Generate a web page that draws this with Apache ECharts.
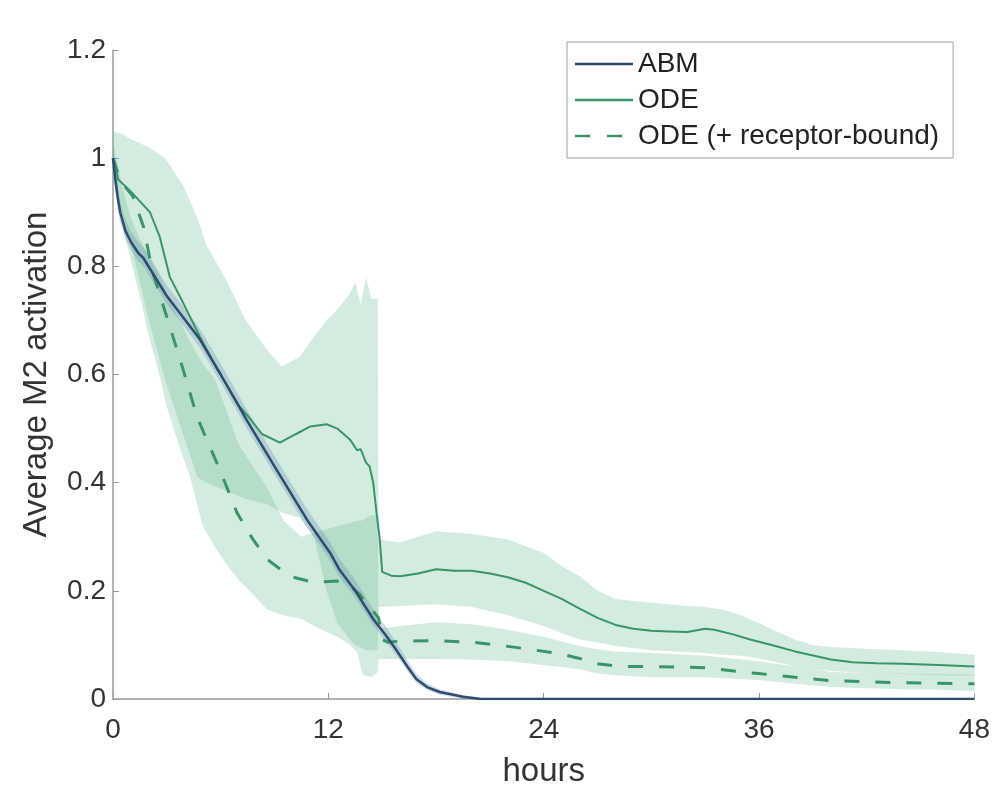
<!DOCTYPE html>
<html><head><meta charset="utf-8">
<script src="https://cdn.jsdelivr.net/npm/echarts@6/dist/echarts.min.js"></script>
<style>html,body{margin:0;padding:0;background:#fff}#c{width:993px;height:793px}</style>
</head><body><div id="c"></div>
<script>
// ---- axis ticks ----
const xTicks = [0, 12, 24, 36, 48];
const yTicks = [0, 0.2, 0.4, 0.6, 0.8, 1, 1.2];

// ---- ABM ----
const abmHours = [0,0.1,0.25,0.4,0.7,1.0,1.4,1.7,3,4.84,6,7.46,9,10.8,12.1,12.6,13.5,14.5,15.2,15.8,16.4,16.9,17.5,18.2,19.5,20.5,24,30,36,42,48];
const abmMean  = [1.0,0.97,0.93,0.90,0.865,0.845,0.825,0.815,0.745,0.665,0.60,0.515,0.43,0.332,0.27,0.24,0.20,0.148,0.118,0.09,0.06,0.037,0.022,0.013,0.004,0,0,0,0,0,0];
const abmLow   = [0.99,0.95,0.91,0.88,0.85,0.83,0.81,0.80,0.73,0.65,0.585,0.50,0.415,0.318,0.256,0.226,0.187,0.136,0.107,0.08,0.052,0.03,0.016,0.008,0.001,0,0,0,0,0,0];
const abmHigh  = [1.01,0.99,0.95,0.92,0.885,0.865,0.845,0.835,0.765,0.685,0.62,0.535,0.45,0.352,0.29,0.26,0.22,0.166,0.134,0.104,0.072,0.046,0.029,0.018,0.007,0.002,0.001,0.001,0.001,0.001,0.001];

// ---- ODE ----
const odeHours = [0,0.3,0.95,1.5,2.06,2.6,3.17,3.9,4.84,5.8,7.07,7.6,8.3,9.3,10.2,11,11.9,12.5,13.2,13.6,13.8,14.1,14.3,14.5,14.7,14.85,15.0,15.5,16,17,18,19,20,21,22,23,24,25,26,27,28,29,30,31,32,33,33.5,34.5,35.5,36.7,38,39.2,40,41.2,42.5,44,46,48];
const odeMean  = [1.0,0.96,0.94,0.92,0.90,0.855,0.78,0.733,0.67,0.61,0.54,0.52,0.49,0.474,0.49,0.504,0.508,0.50,0.48,0.46,0.462,0.437,0.43,0.40,0.34,0.30,0.235,0.228,0.227,0.232,0.24,0.237,0.237,0.232,0.225,0.215,0.20,0.185,0.167,0.15,0.137,0.13,0.126,0.125,0.124,0.13,0.128,0.12,0.11,0.10,0.088,0.079,0.073,0.068,0.066,0.065,0.063,0.06];
const odeBandHours = [0,0.5,1,2,2.9,3.9,4.7,5.2,6.3,7.4,8.6,9.4,10.4,11.2,11.9,12.5,13.2,13.5,13.8,14.1,14.4,14.7,14.75,
                      14.8,16,18,20,22,24,25,26,27,28,30,32,33,34,35,36,37,38,39,40,42,44,46,48];
const odeBandHigh  = [1.05,1.045,1.035,1.02,1.0,0.95,0.89,0.84,0.775,0.70,0.645,0.615,0.633,0.67,0.70,0.72,0.75,0.77,0.73,0.78,0.74,0.74,0.74,
                      0.295,0.29,0.31,0.305,0.295,0.27,0.246,0.227,0.20,0.185,0.178,0.172,0.17,0.165,0.155,0.14,0.125,0.11,0.10,0.096,0.093,0.09,0.087,0.082];
const odeBandLow   = [0.96,0.90,0.84,0.70,0.59,0.49,0.41,0.40,0.385,0.37,0.36,0.345,0.335,0.30,0.20,0.14,0.11,0.10,0.095,0.09,0.09,0.09,0.09,
                      0.17,0.172,0.175,0.17,0.155,0.135,0.122,0.11,0.105,0.098,0.09,0.087,0.085,0.082,0.08,0.075,0.068,0.06,0.055,0.052,0.048,0.046,0.044,0.043];

// ---- ODE (+ receptor-bound) ----
const rbHours = [0,0.3,0.6,1.1,1.7,2.2,3.06,3.9,4.7,6,6.9,7.8,8.6,9.85,11.1,12.5,13.1,13.7,14.3,14.8,15.0,15.3,16,18,20,21.4,23.2,25,26,27,28.4,30,33,35,36,38,40,44,48];
const rbMean  = [1.0,0.97,0.95,0.93,0.873,0.79,0.70,0.61,0.52,0.42,0.345,0.295,0.258,0.227,0.216,0.218,0.212,0.195,0.17,0.15,0.11,0.105,0.107,0.108,0.105,0.10,0.092,0.083,0.075,0.065,0.06,0.06,0.058,0.05,0.047,0.04,0.034,0.03,0.028];
const rbBandHours = [0,0.5,1,1.5,2,2.5,3,3.7,4.3,5,5.7,6.3,7,7.6,8.6,9.5,10.5,11.5,12.5,13.2,13.6,13.9,14.4,14.75,
                     14.8,16,18,20,22,24,26,27,28,30,33,36,38,40,42,44,46,48];
const rbBandHigh  = [1.03,0.95,0.89,0.85,0.82,0.79,0.75,0.70,0.66,0.62,0.59,0.535,0.47,0.44,0.39,0.33,0.30,0.31,0.32,0.325,0.33,0.33,0.34,0.34,
                     0.13,0.135,0.142,0.138,0.128,0.115,0.098,0.092,0.088,0.085,0.08,0.07,0.06,0.05,0.048,0.047,0.046,0.045];
const rbBandLow   = [0.96,0.88,0.81,0.745,0.67,0.61,0.54,0.467,0.41,0.32,0.28,0.25,0.22,0.20,0.165,0.155,0.148,0.13,0.115,0.10,0.087,0.045,0.04,0.05,
                     0.074,0.074,0.074,0.073,0.07,0.063,0.055,0.047,0.044,0.04,0.04,0.035,0.028,0.022,0.02,0.018,0.017,0.015];

const FONT = 'Liberation Sans, Arial, Helvetica, sans-serif';
const ABM_COLOR = '#2d4d6e';
const ODE_COLOR = '#3a9467';
const SOLID_ICON = 'path://M0,0H58V2.5H0Z';
const DASH_ICON = 'path://M0,0H15V2.5H0Z M32,0H47V2.5H32Z M57.9,0H58V0.05H57.9Z';

function pairs(hours, vals) { return hours.map((h, i) => [h, vals[i]]); }

function bandSeries(name, hours, low, high, color, z) {
  const data = hours.map((h, i) => [h, low[i], high[i]]);
  return {
    type: 'custom', name: name, silent: true, z: z, clip: true,
    data: data,
    encode: { x: 0, y: [1, 2] },
    renderItem: function (params, api) {
      if (params.dataIndex !== 0) return null;
      const top = [], bot = [];
      for (let i = 0; i < data.length; i++) {
        top.push(api.coord([data[i][0], data[i][2]]));
        bot.push(api.coord([data[i][0], data[i][1]]));
      }
      return { type: 'polygon', shape: { points: top.concat(bot.reverse()) }, style: { fill: color } };
    }
  };
}

const chart = echarts.init(document.getElementById('c'), null, { renderer: 'canvas' });
chart.setOption({
  animation: false,
  backgroundColor: '#fff',
  textStyle: { fontFamily: FONT },
  grid: { left: 113, right: 18, top: 50, bottom: 92, containLabel: false },
  legend: {
    data: [
      { name: 'ABM', icon: SOLID_ICON },
      { name: 'ODE', icon: SOLID_ICON },
      { name: 'ODE (+ receptor-bound)', icon: DASH_ICON }
    ],
    orient: 'vertical', left: 567, top: 42,
    backgroundColor: '#fff', borderColor: '#a0a0a0', borderWidth: 1,
    padding: [8, 14, 8, 8], itemGap: 8, itemWidth: 58, itemHeight: 2.5,
    symbolKeepAspect: true,
    textStyle: { fontSize: 28, color: '#222', fontFamily: FONT }
  },
  xAxis: {
    type: 'value', min: xTicks[0], max: xTicks[xTicks.length - 1], interval: xTicks[1] - xTicks[0],
    axisLine: { show: true, onZero: false, lineStyle: { color: '#9a9a9a', width: 1.5 } },
    axisTick: { show: true, inside: true, length: 6, lineStyle: { color: '#9a9a9a' } },
    splitLine: { show: false },
    axisLabel: { fontSize: 28, color: '#333', margin: 17, fontFamily: FONT },
    name: 'hours', nameLocation: 'middle', nameGap: 56,
    nameTextStyle: { fontSize: 33, color: '#333', fontFamily: FONT }
  },
  yAxis: {
    type: 'value', min: yTicks[0], max: yTicks[yTicks.length - 1], interval: 0.2,
    axisLine: { show: true, onZero: false, lineStyle: { color: '#9a9a9a', width: 1.5 } },
    axisTick: { show: true, inside: true, length: 6, lineStyle: { color: '#9a9a9a' } },
    splitLine: { show: false },
    axisLabel: { fontSize: 28, color: '#333', margin: 7, fontFamily: FONT },
    name: 'Average M2 activation', nameLocation: 'middle', nameGap: 60,
    nameTextStyle: { fontSize: 33, color: '#333', fontFamily: FONT }
  },
  series: [
    bandSeries('rbBand', rbBandHours, rbBandLow, rbBandHigh, 'rgba(100,185,145,0.28)', 1),
    bandSeries('odeBand', odeBandHours, odeBandLow, odeBandHigh, 'rgba(100,185,145,0.28)', 1),
    bandSeries('abmBand', abmHours, abmLow, abmHigh, 'rgba(90,130,175,0.28)', 1),
    { type: 'line', name: 'ODE (+ receptor-bound)', data: pairs(rbHours, rbMean), symbol: 'none', z: 3,
      itemStyle: { color: ODE_COLOR }, lineStyle: { color: ODE_COLOR, width: 3, type: [15, 16] } },
    { type: 'line', name: 'ODE', data: pairs(odeHours, odeMean), symbol: 'none', z: 4,
      itemStyle: { color: ODE_COLOR }, lineStyle: { color: ODE_COLOR, width: 2 } },
    { type: 'line', name: 'ABM', data: pairs(abmHours, abmMean), symbol: 'none', z: 5,
      itemStyle: { color: ABM_COLOR }, lineStyle: { color: ABM_COLOR, width: 2.5 } }
  ]
});
</script></body></html>
